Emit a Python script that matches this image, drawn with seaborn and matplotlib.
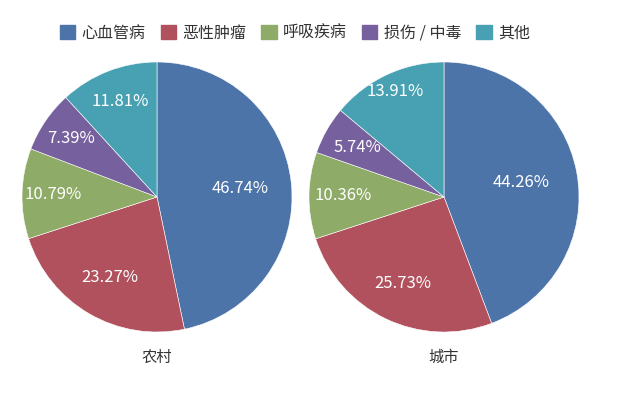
import matplotlib
matplotlib.use("Agg")
import matplotlib.pyplot as plt
import matplotlib.patches as mpatches
import numpy as np
import seaborn as sns

categories = ["心血管病", "恶性肿瘤", "呼吸疾病", "损伤 / 中毒", "其他"]
rural = [46.74, 23.27, 10.79, 7.39, 11.81]
urban = [44.26, 25.73, 10.36, 5.74, 13.91]
groups = ["农村", "城市"]

sns.set_theme(style="white")
plt.rcParams["font.family"] = ["Noto Sans CJK SC", "DejaVu Sans"]

colors = sns.color_palette(["#4d74a9", "#b1515d", "#8eab67", "#76609d", "#48a1b3"])

fig = plt.figure(figsize=(6.37, 3.98), dpi=100)

W, H = 637, 398
r = 135
centers = [(157, 197), (444, 197)]
# label radius for each slice (fraction of pie radius), as placed in the original
label_r = [[0.62, 0.69, 0.77, 0.77, 0.76],
           [0.58, 0.71, 0.75, 0.74, 0.86]]

for (cx, cy), vals, name, lr in zip(centers, [rural, urban], groups, label_r):
    ax = fig.add_axes([(cx - r) / W, (H - cy - r) / H, 2 * r / W, 2 * r / H])
    wedges, texts, autotexts = ax.pie(
        vals,
        colors=colors,
        startangle=90,
        counterclock=False,
        autopct=lambda p: f"{p:.2f}%",
        pctdistance=0.7,
        wedgeprops=dict(linewidth=0.4, edgecolor="white"),
        textprops=dict(color="white", fontsize=12, fontweight="light"),
    )
    for w, t, d in zip(wedges, autotexts, lr):
        ang = np.deg2rad((w.theta1 + w.theta2) / 2)
        t.set_position((d * np.cos(ang), d * np.sin(ang)))
    ax.set_xlim(-1, 1)
    ax.set_ylim(-1, 1)
    ax.set_aspect("equal")
    ax.axis("off")
    fig.text(cx / W, 1 - 357 / H, name, ha="center", va="center",
             fontsize=11, color="#333333")

handles = [mpatches.Patch(color=c, label=l) for c, l in zip(colors, categories)]
fig.legend(handles=handles, loc="center", bbox_to_anchor=(0.463, 0.917), ncol=5,
           frameon=False, fontsize=11.5, handlelength=0.95, handleheight=1.0,
           handletextpad=0.4, columnspacing=0.95, labelcolor="#333333")

fig.savefig("out.png", dpi=100, facecolor="white")
